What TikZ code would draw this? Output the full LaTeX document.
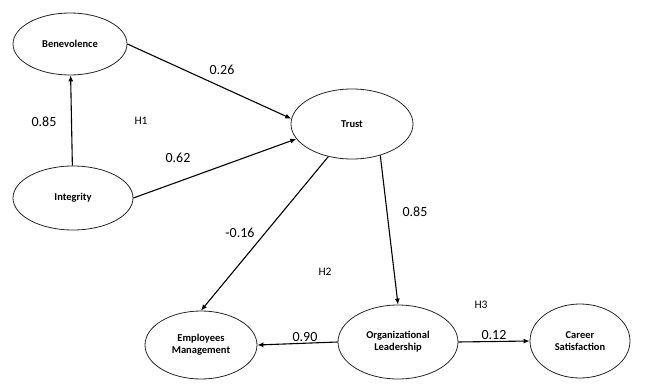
\documentclass[tikz,border=0pt]{standalone}
\usepackage{fontspec}
\setmainfont{Carlito}
\usepackage{tikz}
\usetikzlibrary{arrows.meta, shapes.geometric, positioning}

\begin{document}
\begin{tikzpicture}[
  x=1pt, y=-1pt,
  construct/.style={
    ellipse, draw=black!85, line width=0.8pt,
    inner sep=0pt, align=center,
    font=\fontsize{10.5}{12}\selectfont\bfseries
  },
  arrow/.style={-{Latex[length=6pt, width=5pt]}, line width=1.1pt, color=black},
  coef/.style={font=\fontsize{14}{16}\selectfont},
  hyp/.style={font=\fontsize{11.5}{13}\selectfont}
]
\useasboundingbox (0,0) rectangle (655,390);

%% ─── Constructs ──────────────────────────────────────────────────────────────
\node[construct, minimum width=114pt, minimum height=62pt] (bene)  at (70,44)   {Benevolence};
\node[construct, minimum width=120pt, minimum height=64pt] (integ) at (73,198)  {Integrity};
\node[construct, minimum width=122pt, minimum height=70pt] (trust) at (352,124) {Trust};
\node[construct, minimum width=112pt, minimum height=68pt] (emp)   at (201,345) {Employees\\Management};
\node[construct, minimum width=120pt, minimum height=74pt] (org)   at (398,342) {Organizational\\Leadership};
\node[construct, minimum width=100pt, minimum height=74pt] (car)   at (580,341) {Career\\Satisfaction};

%% ─── Paths ───────────────────────────────────────────────────────────────────
\draw[arrow] (integ) -- (bene);
\draw[arrow] (bene.east) -- (trust.175);
\draw[arrow] (integ.east) -- (trust.195);
\draw[arrow] (trust.-126) -- (emp.north);
\draw[arrow] (trust.-48) -- (org.north);
\draw[arrow] (org.west) -- (emp.east);
\draw[arrow] (org.east) -- (car.west);

%% ─── Coefficients & hypotheses ───────────────────────────────────────────────
\node[coef] (cbt) at (222,70)  {0.26};
\node[coef] (cib) at (44,122)  {0.85};
\node[coef] (cit) at (178,158) {0.62};
\node[coef] (cte) at (240,233) {-0.16};
\node[coef] (cto) at (415,212) {0.85};
\node[coef] (coe) at (305,337) {0.90};
\node[coef] (coc) at (494,335) {0.12};

\node[hyp] (h1) at (141,121) {H1};
\node[hyp] (h2) at (325,272) {H2};
\node[hyp] (h3) at (481,305) {H3};

\end{tikzpicture}
\end{document}
